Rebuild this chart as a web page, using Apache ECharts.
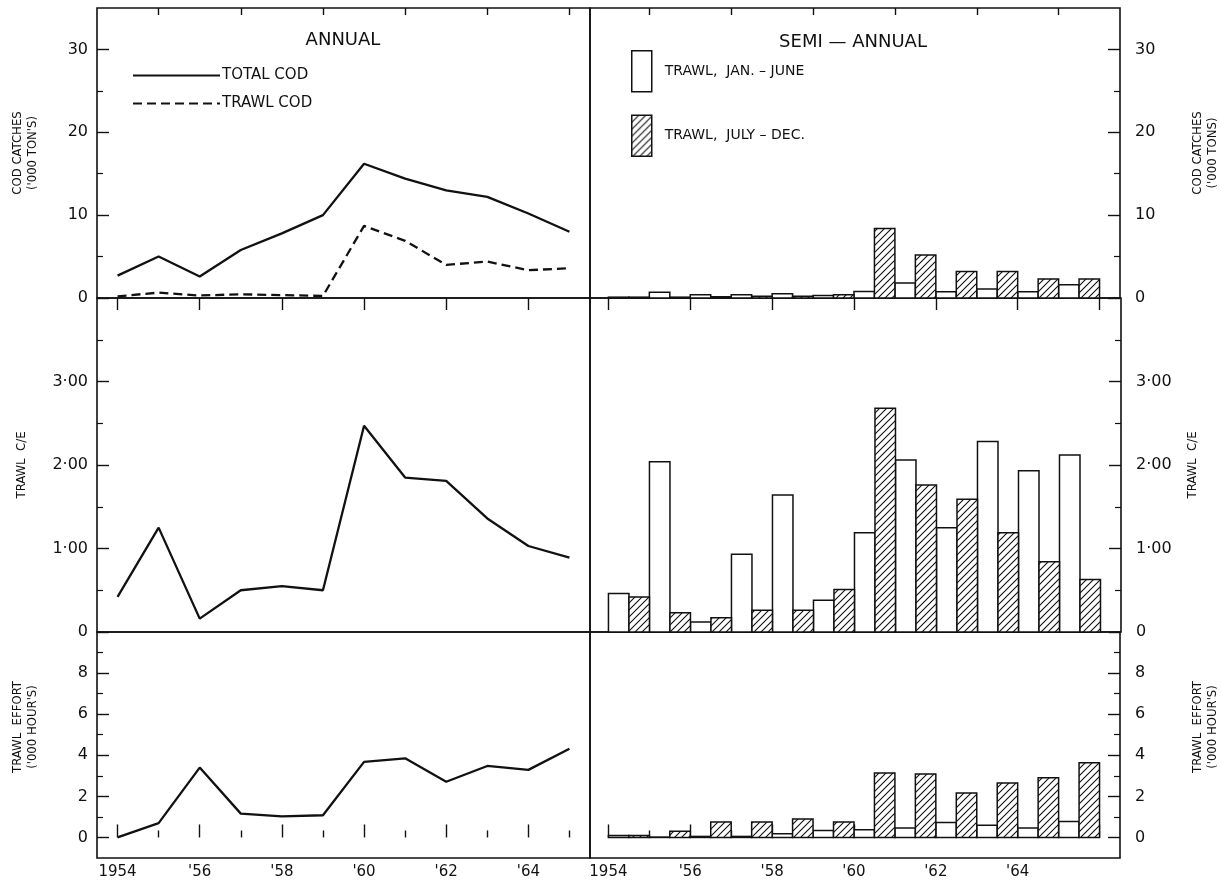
<!DOCTYPE html>
<html>
<head>
<meta charset="utf-8">
<script src="https://cdn.jsdelivr.net/npm/echarts@6/dist/echarts.min.js"></script>
<style>
  html, body { margin: 0; padding: 0; background: #fff; }
  #chart { width: 1221px; height: 881px; }
</style>
</head>
<body>
<div id="chart"></div>
<script>
// ---- Data ----------------------------------------------------------------
const years = [1954, 1955, 1956, 1957, 1958, 1959, 1960, 1961, 1962, 1963, 1964, 1965];

// Annual series
const totalCod    = [2.7, 5.0, 2.6, 5.8, 7.8, 10.0, 16.2, 14.4, 13.0, 12.2, 10.2, 8.0];
const trawlCod    = [0.2, 0.65, 0.3, 0.45, 0.35, 0.25, 8.7, 6.9, 4.0, 4.4, 3.35, 3.6];
const trawlCE     = [0.42, 1.25, 0.16, 0.50, 0.55, 0.50, 2.47, 1.85, 1.81, 1.36, 1.03, 0.89];
const trawlEffort = [0.0, 0.7, 3.4, 1.16, 1.03, 1.08, 3.68, 3.85, 2.71, 3.48, 3.29, 4.32];

// Semi-annual series (first half / second half of each year)
const catchJanJun  = [0.1, 0.7, 0.4, 0.4, 0.5, 0.3, 0.77, 1.8, 0.75, 1.1, 0.75, 1.6];
const catchJulDec  = [0.1, 0.1, 0.15, 0.2, 0.2, 0.4, 8.4, 5.2, 3.2, 3.2, 2.3, 2.3];
const ceJanJun     = [0.46, 2.04, 0.12, 0.93, 1.64, 0.38, 1.19, 2.06, 1.25, 2.28, 1.93, 2.12];
const ceJulDec     = [0.42, 0.23, 0.17, 0.26, 0.26, 0.51, 2.68, 1.76, 1.59, 1.19, 0.84, 0.63];
const effortJanJun = [0.1, 0.02, 0.05, 0.05, 0.18, 0.34, 0.37, 0.46, 0.73, 0.59, 0.46, 0.78];
const effortJulDec = [0.1, 0.3, 0.75, 0.75, 0.9, 0.75, 3.14, 3.09, 2.16, 2.65, 2.9, 3.63];

// Tick values and labels
const yearLabelVals = [1954, 1956, 1958, 1960, 1962, 1964];
const yearLabelText = ['1954', "'56", "'58", "'60", "'62", "'64"];
const catchTickVals = [0, 10, 20, 30];
const catchTickText = ['0', '10', '20', '30'];
const catchMinor    = [5, 15, 25];
const ceTickVals    = [0, 1, 2, 3];
const ceTickText    = ['0', '1·00', '2·00', '3·00'];
const ceMinor       = [0.5, 1.5, 2.5, 3.5];
const effortTickVals = [0, 2, 4, 6, 8];
const effortTickText = ['0', '2', '4', '6', '8'];
const effortMinor    = [1, 3, 5, 7, 9];

const NAME_TOTAL = 'TOTAL COD';
const NAME_TRAWL = 'TRAWL COD';
const NAME_H1 = 'TRAWL,  JAN. – JUNE';
const NAME_H2 = 'TRAWL,  JULY – DEC.';

// ---- Styling helpers -----------------------------------------------------
const INK = '#111';
const FONT = "'DejaVu Sans', 'Noto Sans', sans-serif";
const NARROW = "'Liberation Sans Narrow', 'DejaVu Sans Condensed', 'DejaVu Sans', sans-serif";

function makeHatch() {
  const s = 7;
  const c = document.createElement('canvas');
  c.width = s; c.height = s;
  const ctx = c.getContext('2d');
  ctx.fillStyle = '#fff';
  ctx.fillRect(0, 0, s, s);
  ctx.strokeStyle = INK;
  ctx.lineWidth = 1.1;
  ctx.beginPath();
  ctx.moveTo(0, s); ctx.lineTo(s, 0);
  ctx.moveTo(-1, 1); ctx.lineTo(1, -1);
  ctx.moveTo(s - 1, s + 1); ctx.lineTo(s + 1, s - 1);
  ctx.stroke();
  return c;
}
const hatch = { image: makeHatch(), repeat: 'repeat' };

// Panel layout: three stacked panels on each side
const grids = [
  { left: 97,  top: 8,   width: 493, height: 290 },
  { left: 97,  top: 298, width: 493, height: 334 },
  { left: 97,  top: 632, width: 493, height: 226 },
  { left: 590, top: 8,   width: 531, height: 290 },
  { left: 590, top: 298, width: 531, height: 334 },
  { left: 590, top: 632, width: 531, height: 226 }
].map(g => Object.assign({ show: true, borderColor: INK, borderWidth: 1.6, backgroundColor: 'transparent' }, g));

const xRanges = [[1953.5, 1965.5], [1953.5, 1965.5], [1953.5, 1965.5],
                 [1953.55, 1966.5], [1953.55, 1966.5], [1953.55, 1966.5]];
const yRanges = [[0, 35], [0, 4], [-1, 10], [0, 35], [0, 4], [-1, 10]];

const xAxes = [];
const yAxes = [];

function addX(grid, position, tickVals, tickLen, withLabels) {
  const [min, max] = xRanges[grid];
  xAxes.push({
    type: 'value', gridIndex: grid, position, min, max,
    axisLine: { show: false },
    splitLine: { show: false },
    axisTick: tickVals ? { show: true, inside: true, length: tickLen, customValues: tickVals,
                           lineStyle: { color: INK, width: 1.4 } } : { show: false },
    axisLabel: withLabels ? {
      show: true, customValues: yearLabelVals, margin: 7,
      color: INK, fontFamily: FONT, fontSize: 15,
      formatter: v => yearLabelText[yearLabelVals.indexOf(Math.round(v))] ?? ''
    } : { show: false }
  });
  return xAxes.length - 1;
}

function addY(grid, position, tickVals, tickText, minorVals, name, nameGap, namePad) {
  const [min, max] = yRanges[grid];
  yAxes.push({
    type: 'value', gridIndex: grid, position, min, max,
    axisLine: { show: false },
    splitLine: { show: false },
    axisTick: { show: true, inside: true, length: 12, customValues: tickVals,
                lineStyle: { color: INK, width: 1.4 } },
    axisLabel: {
      show: true, customValues: tickVals, margin: position === 'right' ? 15 : 9,
      color: INK, fontFamily: FONT, fontSize: 16,
      formatter: v => {
        const i = tickVals.findIndex(t => Math.abs(t - v) < 1e-6);
        return i >= 0 ? tickText[i] : '';
      }
    },
    name, nameLocation: 'middle', nameRotate: 90, nameGap, nameMoveOverlap: false,
    nameTextStyle: { color: INK, fontFamily: NARROW, fontSize: 13, lineHeight: 15,
                     padding: namePad || 0 }
  });
  const main = yAxes.length - 1;
  yAxes.push({
    type: 'value', gridIndex: grid, position, min, max,
    axisLine: { show: false }, splitLine: { show: false },
    axisTick: { show: true, inside: true, length: 6, customValues: minorVals,
                lineStyle: { color: INK, width: 1.2 } },
    axisLabel: { show: false }
  });
  return main;
}

const leftYears = years;
const rightYears = years.concat([1966]);
const evens = arr => arr.filter(y => y % 2 === 0);
const odds = arr => arr.filter(y => y % 2 === 1);

// x axes: bottom axis of each panel carries the series; ticks on outer edges
const xMain = [];
for (let g = 0; g < 6; g++) {
  const yrs = g < 3 ? leftYears : rightYears;
  const isBottom = g === 2 || g === 5;
  const isTop = g === 0 || g === 3;
  xMain.push(addX(g, 'bottom', isBottom ? evens(yrs) : null, 13, isBottom));
  if (isBottom) addX(g, 'bottom', odds(yrs), 7, false);
  if (isTop) {
    addX(g, 'top', evens(yrs), 12, false);
    addX(g, 'top', odds(yrs), 7, false);
  }
}

const CATCH_L = "COD CATCHES\n('000 TON'S)";
const CATCH_R = "COD CATCHES\n('000 TONS)";
const CE = 'TRAWL  C/E';
const EFFORT = "TRAWL  EFFORT\n('000 HOUR'S)";

const yMain = [
  addY(0, 'left',  catchTickVals,  catchTickText,  catchMinor,  CATCH_L, 57),
  addY(1, 'left',  ceTickVals,     ceTickText,     ceMinor,     CE, 68),
  addY(2, 'left',  effortTickVals, effortTickText, effortMinor, EFFORT, 57, [0, 0, 0, 36]),
  addY(3, 'right', catchTickVals,  catchTickText,  catchMinor,  CATCH_R, 70),
  addY(4, 'right', ceTickVals,     ceTickText,     ceMinor,     CE, 64),
  addY(5, 'right', effortTickVals, effortTickText, effortMinor, EFFORT, 70, [0, 0, 0, 36])
];

// ---- Series --------------------------------------------------------------
function lineSeries(name, grid, values, dashed) {
  return {
    name, type: 'line', xAxisIndex: xMain[grid], yAxisIndex: yMain[grid],
    data: years.map((y, i) => [y, values[i]]),
    symbol: 'none', silent: true, animation: false,
    lineStyle: { color: INK, width: 2.3, type: dashed ? [9, 5] : 'solid' },
    itemStyle: { color: INK }
  };
}

// Half-year bar: spans [year + offset, year + offset + 0.5] on the time axis
function halfYearBars(name, grid, values, offset, fill) {
  return {
    name, type: 'custom', xAxisIndex: xMain[grid], yAxisIndex: yMain[grid],
    data: years.map((y, i) => [y, values[i]]),
    itemStyle: { color: fill, borderColor: INK, borderWidth: 1.5 },
    animation: false, silent: true,
    renderItem(params, api) {
      const x0 = api.value(0) + offset;
      const top = api.coord([x0, api.value(1)]);
      const base = api.coord([x0 + 0.5, 0]);
      return {
        type: 'rect',
        shape: { x: top[0], y: top[1], width: base[0] - top[0], height: base[1] - top[1] },
        style: { fill, stroke: INK, lineWidth: 1.5 }
      };
    }
  };
}

const series = [
  lineSeries(NAME_TOTAL, 0, totalCod, false),
  lineSeries(NAME_TRAWL, 0, trawlCod, true),
  lineSeries('TRAWL C/E', 1, trawlCE, false),
  lineSeries('TRAWL EFFORT', 2, trawlEffort, false),
  halfYearBars(NAME_H1, 3, catchJanJun, 0, '#fff'),
  halfYearBars(NAME_H2, 3, catchJulDec, 0.5, hatch),
  halfYearBars(NAME_H1, 4, ceJanJun, 0, '#fff'),
  halfYearBars(NAME_H2, 4, ceJulDec, 0.5, hatch),
  halfYearBars(NAME_H1, 5, effortJanJun, 0, '#fff'),
  halfYearBars(NAME_H2, 5, effortJulDec, 0.5, hatch)
];

const chart = echarts.init(document.getElementById('chart'), null, { renderer: 'canvas' });
chart.setOption({
  backgroundColor: '#fff',
  animation: false,
  grid: grids,
  xAxis: xAxes,
  yAxis: yAxes,
  legend: [
    {
      data: [NAME_TOTAL, NAME_TRAWL], orient: 'vertical', left: 127, top: 63,
      itemWidth: 87, itemHeight: 12, itemGap: 13, selectedMode: false,
      itemStyle: { opacity: 0 },
      textStyle: { color: INK, fontFamily: FONT, fontSize: 15, padding: [0, 0, 0, -3] }
    },
    {
      data: [NAME_H1, NAME_H2], orient: 'vertical', left: 626, top: 45,
      icon: 'rect', itemWidth: 20, itemHeight: 41, itemGap: 22, selectedMode: false,
      itemStyle: { borderColor: INK, borderWidth: 1.5 },
      textStyle: { color: INK, fontFamily: FONT, fontSize: 14, padding: [0, 0, 0, 8] }
    }
  ],
  graphic: [
    { type: 'text', x: 343, y: 40, style: { text: 'ANNUAL', align: 'center', verticalAlign: 'middle',
      fill: INK, font: "18px 'DejaVu Sans', sans-serif" } },
    { type: 'text', x: 853, y: 42, style: { text: 'SEMI — ANNUAL', align: 'center', verticalAlign: 'middle',
      fill: INK, font: "18px 'DejaVu Sans', sans-serif" } }
  ],
  series
});
</script>
</body>
</html>
